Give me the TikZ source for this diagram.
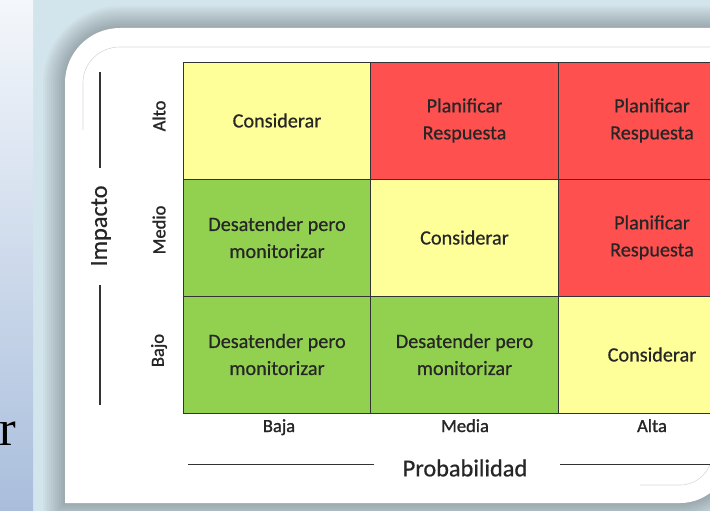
\documentclass[tikz,border=0pt]{standalone}
\usepackage{fontspec}
\newfontfamily\cellfont[FakeBold=0.6]{Carlito}
\newfontfamily\labfont[FakeBold=1.2]{Carlito}
\newfontfamily\seriffont{Liberation Serif}
\definecolor{yel}{HTML}{FFFF99}
\definecolor{redc}{HTML}{FF5050}
\definecolor{grn}{HTML}{92D050}
\definecolor{frame}{HTML}{D3E5EC}
\definecolor{stripT}{HTML}{F4F7FB}
\definecolor{stripB}{HTML}{A9BEDC}
\definecolor{txt}{HTML}{262626}
\definecolor{cellline}{HTML}{333333}
\newcommand\mypanel[1]{%
  ({65-#1},{503+#1}) -- ({65-#1},83)
  .. controls ({65-#1},{83-0.5523*(55+#1)}) and ({120-0.5523*(55+#1)},{28-#1}) .. (120,{28-#1})
  -- ({730+#1},{28-#1}) -- ({730+#1},453)
  .. controls ({730+#1},{453+0.5523*(50+#1)}) and ({680+0.5523*(50+#1)},{503+#1}) .. (680,{503+#1})
  -- cycle}
\begin{document}
\begin{tikzpicture}[x=1pt,y=-1pt,
  cell/.style={draw=cellline, line width=0.9pt, minimum width=188pt, minimum height=117pt, inner sep=0pt,
    font=\cellfont\fontsize{20.2}{27}\selectfont, text=txt, align=center},
  axlab/.style={font=\labfont\fontsize{18.5}{22}\selectfont, text=txt, inner sep=0pt},
  axtitle/.style={font=\cellfont\fontsize{24.3}{28}\selectfont, text=txt, inner sep=0pt},
  axline/.style={line width=1.8pt, draw=black!80}]
\useasboundingbox (0,0) rectangle (710,511);
\clip (0,0) rectangle (710,511);
% background
\fill[frame] (0,0) rectangle (710,511);
\shade[top color=stripT, bottom color=stripB] (0,0) rectangle (33,511);
\node[font=\seriffont\fontsize{50}{50}\selectfont, anchor=base east, inner sep=0pt, text=black] (rr) at (16,445) {r};
% shadow
\foreach \d in {2,4,...,22} {
  \fill[black, opacity=0.022] \mypanel{\d};
}
% panel
\fill[white] \mypanel{0};
% inner faint line
\draw[black!15, line width=0.6pt] (83,130) -- (83,83) .. controls (83,62.6) and (99.6,47) .. (120,47) -- (712,47);
\draw[black!15, line width=0.6pt] (640,485) -- (680,485) .. controls (697.7,485) and (712,470.7) .. (712,453);
% grid
\node[cell, fill=yel]  (c11) at (277,120.5)   {Considerar};
\node[cell, fill=redc] (c12) at (464.5,120.5) {Planificar\\Respuesta};
\node[cell, fill=redc] (c13) at (652,120.5)   {Planificar\\Respuesta};
\node[cell, fill=grn]  (c21) at (277,237.5)   {Desatender pero\\monitorizar};
\node[cell, fill=yel]  (c22) at (464.5,237.5) {Considerar};
\node[cell, fill=redc] (c23) at (652,237.5)   {Planificar\\Respuesta};
\node[cell, fill=grn]  (c31) at (277,354.5)   {Desatender pero\\monitorizar};
\node[cell, fill=grn]  (c32) at (464.5,354.5) {Desatender pero\\monitorizar};
\node[cell, fill=yel]  (c33) at (652,354.5)   {Considerar};
% row labels
\node[axlab, rotate=90] (alto)  at (159,116) {Alto};
\node[axlab, rotate=90] (medio) at (159,230) {Medio};
\node[axlab, rotate=90] (bajo)  at (159,350.5) {Bajo};
% column labels
\node[axlab, anchor=base] (baja)  at (279,432)   {Baja};
\node[axlab, anchor=base] (media) at (465,432) {Media};
\node[axlab, anchor=base] (alta)  at (652,432)   {Alta};
% axis titles
\node[axtitle, rotate=90] (imp) at (101,226) {Impacto};
\node[axtitle] (prob) at (465,468) {Probabilidad};
\coordinate (i1) at (100,72);  \coordinate (i2) at (100,168);
\coordinate (i3) at (100,285); \coordinate (i4) at (100,405);
\coordinate (p1) at (188,464.5); \coordinate (p2) at (374,464.5);
\coordinate (p3) at (560,464.5); \coordinate (p4) at (712,464.5);
\draw[axline] (i1) -- (i2);
\draw[axline] (i3) -- (i4);
\draw[axline] (p1) -- (p2);
\draw[axline] (p3) -- (p4);
\end{tikzpicture}
\end{document}
